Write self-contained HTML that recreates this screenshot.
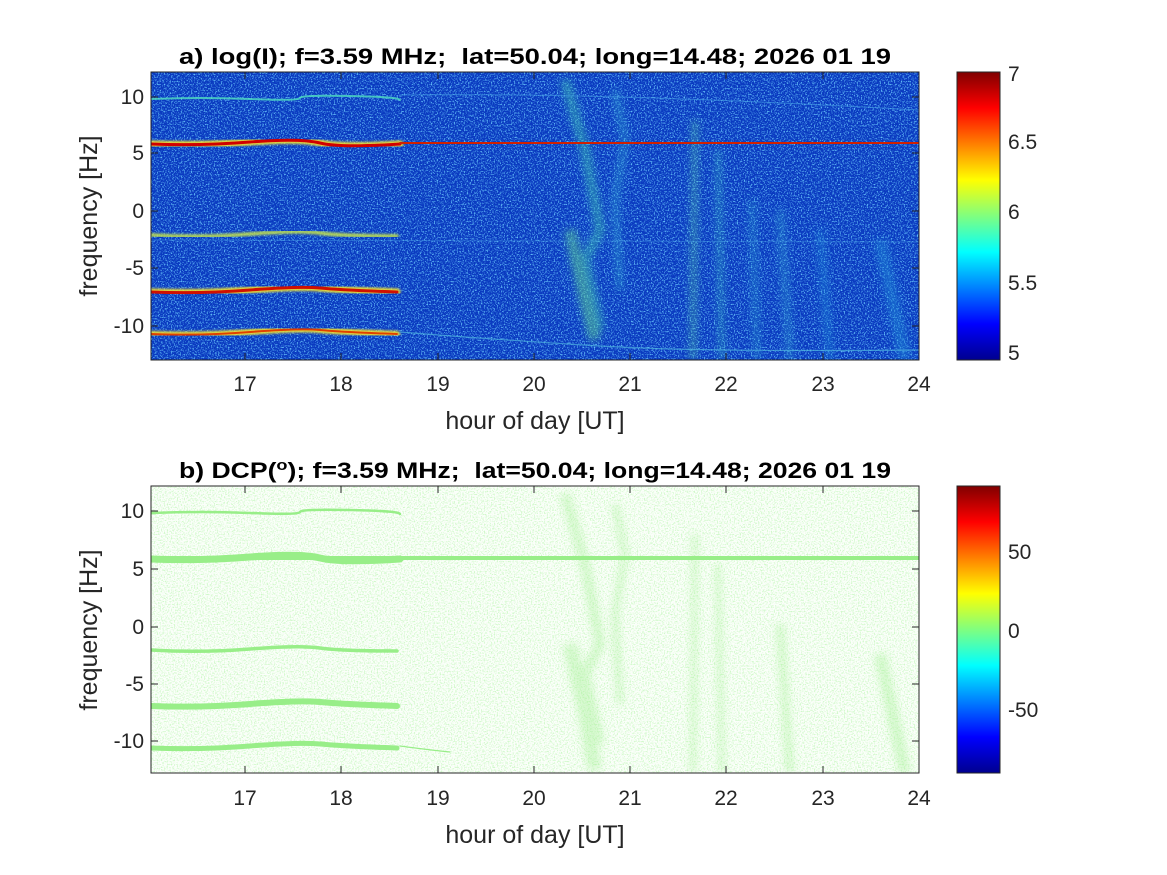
<!DOCTYPE html>
<html><head><meta charset="utf-8"><style>
body{margin:0;background:#fff;}
svg{display:block;font-family:"Liberation Sans",Arial,sans-serif;}
</style></head><body>
<svg width="1167" height="875" viewBox="0 0 1167 875" xmlns="http://www.w3.org/2000/svg">
<defs>
<linearGradient id="jet" x1="0" y1="1" x2="0" y2="0">
<stop offset="0" stop-color="#00008f"/><stop offset="0.125" stop-color="#0000ff"/>
<stop offset="0.375" stop-color="#00ffff"/><stop offset="0.625" stop-color="#ffff00"/>
<stop offset="0.875" stop-color="#ff0000"/><stop offset="1" stop-color="#800000"/>
</linearGradient>
<filter id="noiseB" x="0" y="0" width="100%" height="100%">
<feTurbulence type="fractalNoise" baseFrequency="0.7" numOctaves="2" seed="3"/>
<feColorMatrix type="matrix" values="0 0 0 0 0.15  0 0 0 0 0.6  0 0 0 0 1  0 0 0 4 -2.0"/>
</filter>
<filter id="noiseG" x="0" y="0" width="100%" height="100%">
<feTurbulence type="fractalNoise" baseFrequency="0.7" numOctaves="2" seed="7"/>
<feColorMatrix type="matrix" values="0 0 0 0 0.55  0 0 0 0 0.93  0 0 0 0 0.5  0 0 0 4 -1.9"/>
</filter>
<filter id="blur1"><feGaussianBlur stdDeviation="1.2"/></filter>
<filter id="blur3"><feGaussianBlur stdDeviation="4"/></filter>
<clipPath id="c1"><rect x="151" y="72" width="768" height="288"/></clipPath>
<clipPath id="c2"><rect x="151" y="486" width="768" height="287"/></clipPath>
</defs>

<!-- TOP PLOT -->
<text x="535" y="64" font-size="22" font-weight="bold" text-anchor="middle" textLength="712" lengthAdjust="spacingAndGlyphs" xml:space="preserve">a) log(I); f=3.59 MHz;  lat=50.04; long=14.48; 2026 01 19</text>
<g clip-path="url(#c1)">
<rect x="151" y="72" width="768" height="288" fill="#0a3ac0"/>
<rect x="151" y="72" width="768" height="288" filter="url(#noiseB)" opacity="0.9"/>
<g filter="url(#blur3)" opacity="0.5">
<path d="M565 80 L585 150 L600 230 L585 260 L600 330" stroke="#40c8b0" stroke-width="10" fill="none"/>
<path d="M570 230 L585 300 L595 340" stroke="#60d890" stroke-width="12" fill="none"/>
<path d="M615 90 L625 140 L615 200 L620 290" stroke="#30a8d0" stroke-width="7" fill="none"/>
<path d="M695 120 L693 360" stroke="#60e0a0" stroke-width="5" fill="none"/>
<path d="M718 150 L722 360" stroke="#40c8c0" stroke-width="5" fill="none"/>
<path d="M752 200 L757 360" stroke="#30b0d0" stroke-width="5" fill="none"/>
<path d="M780 210 L790 360" stroke="#30a0d0" stroke-width="7" fill="none"/>
<path d="M820 230 L830 360" stroke="#2090d8" stroke-width="7" fill="none"/>
<path d="M880 240 L905 360" stroke="#2090d8" stroke-width="12" fill="none"/>
</g>
<g fill="none" stroke-linecap="round">
<path d="M151 99 Q200 97 250 99 T300 98 T350 96 T400 100" stroke="#50e0c0" stroke-width="2" opacity="0.8"/>
<path d="M400 95 Q600 92 919 110" stroke="#4aa8e8" stroke-width="1" opacity="0.6"/>
<path d="M151 143 L919 143" stroke="#ffe040" stroke-width="4" filter="url(#blur1)"/>
<path d="M151 144 Q200 146 250 142 T320 143 T400 144" stroke="#f0e030" stroke-width="7" filter="url(#blur1)"/>
<path d="M151 144 Q200 146 250 142 T320 143 T400 144" stroke="#d00000" stroke-width="3"/>
<path d="M400 143 L919 143" stroke="#d02000" stroke-width="2"/>
<path d="M151 235 Q200 238 250 234 T320 233 T397 236" stroke="#c0e050" stroke-width="3.5" filter="url(#blur1)"/>
<path d="M151 292 Q200 294 250 290 T320 288 T397 292" stroke="#f0e030" stroke-width="7" filter="url(#blur1)"/>
<path d="M151 292 Q200 294 250 290 T320 288 T397 292" stroke="#d01000" stroke-width="3"/>
<path d="M151 334 Q200 336 250 332 T320 330 T397 334" stroke="#f0e030" stroke-width="6" filter="url(#blur1)"/>
<path d="M151 334 Q200 336 250 332 T320 330 T397 334" stroke="#e04000" stroke-width="2"/>
<path d="M400 332 Q500 340 600 346 T919 350" stroke="#50b8e0" stroke-width="1.2" opacity="0.7"/>
<path d="M151 240 L919 242" stroke="#4aa8e8" stroke-width="1" opacity="0.4"/>
</g>
</g>
<rect x="151" y="72" width="768" height="288" fill="none" stroke="#262626" stroke-width="1"/>
<g stroke="#262626" stroke-width="1">
<path d="M245 72v7M341 72v7M438 72v7M534 72v7M630 72v7M726 72v7M823 72v7M245 360v-7M341 360v-7M438 360v-7M534 360v-7M630 360v-7M726 360v-7M823 360v-7"/>
<path d="M151 97h7M151 153h7M151 211h7M151 268h7M151 326h7M919 97h-7M919 153h-7M919 211h-7M919 268h-7M919 326h-7"/>
</g>
<g font-size="21" fill="#262626">
<g text-anchor="end"><text x="144" y="104">10</text><text x="144" y="160">5</text><text x="144" y="218">0</text><text x="144" y="275">-5</text><text x="144" y="333">-10</text></g>
<g text-anchor="middle"><text x="245" y="391">17</text><text x="341" y="391">18</text><text x="438" y="391">19</text><text x="534" y="391">20</text><text x="630" y="391">21</text><text x="726" y="391">22</text><text x="823" y="391">23</text><text x="919" y="391">24</text></g>
<text x="535" y="429" text-anchor="middle" font-size="25">hour of day [UT]</text>
<text transform="translate(97 216) rotate(-90)" text-anchor="middle" font-size="25">frequency [Hz]</text>
</g>
<rect x="957" y="72" width="43" height="288" fill="url(#jet)" stroke="#262626"/>
<g font-size="21" fill="#262626"><text x="1008" y="81">7</text><text x="1008" y="149">6.5</text><text x="1008" y="219">6</text><text x="1008" y="290">5.5</text><text x="1008" y="360">5</text></g>

<!-- BOTTOM PLOT -->
<text x="535" y="478" font-size="22" font-weight="bold" text-anchor="middle" textLength="712" lengthAdjust="spacingAndGlyphs" xml:space="preserve">b) DCP(<tspan font-size="15" dy="-8">o</tspan><tspan dy="8">); f=3.59 MHz;  lat=50.04; long=14.48; 2026 01 19</tspan></text>
<g clip-path="url(#c2)">
<rect x="151" y="486" width="768" height="287" fill="#fbfffa"/>
<rect x="151" y="486" width="768" height="287" filter="url(#noiseG)" opacity="0.8"/>
<g filter="url(#blur3)" opacity="0.4">
<path d="M565 494 L585 564 L600 644 L585 674 L600 744" stroke="#a0f090" stroke-width="10" fill="none"/>
<path d="M570 644 L585 714 L595 770" stroke="#a0f090" stroke-width="14" fill="none"/>
<path d="M615 504 L625 554 L615 614 L620 704" stroke="#a0f090" stroke-width="7" fill="none"/>
<path d="M695 534 L693 773" stroke="#a0f090" stroke-width="6" fill="none"/>
<path d="M718 564 L722 773" stroke="#a0f090" stroke-width="6" fill="none"/>
<path d="M780 624 L790 773" stroke="#a0f090" stroke-width="8" fill="none"/>
<path d="M880 654 L905 773" stroke="#a0f090" stroke-width="12" fill="none"/>
</g>
<g fill="none" stroke="#98ee88" stroke-linecap="round">
<path d="M151 513 Q200 511 250 513 T300 512 T350 510 T400 514" stroke-width="2.5"/>
<path d="M151 558 L919 558" stroke-width="4"/>
<path d="M151 559 Q200 561 250 557 T320 558 T400 559" stroke-width="7"/>
<path d="M151 650 Q200 653 250 649 T320 648 T397 651" stroke-width="3.5"/>
<path d="M151 706 Q200 708 250 704 T320 702 T397 706" stroke-width="6"/>
<path d="M151 748 Q200 750 250 746 T320 744 T397 748" stroke-width="5"/>
<path d="M400 746 Q430 750 450 752" stroke-width="1.2"/>
</g>
</g>
<rect x="151" y="486" width="768" height="287" fill="none" stroke="#262626" stroke-width="1"/>
<g stroke="#262626" stroke-width="1">
<path d="M245 486v7M341 486v7M438 486v7M534 486v7M630 486v7M726 486v7M823 486v7M245 773v-7M341 773v-7M438 773v-7M534 773v-7M630 773v-7M726 773v-7M823 773v-7"/>
<path d="M151 511h7M151 569h7M151 627h7M151 684h7M151 741h7M919 511h-7M919 569h-7M919 627h-7M919 684h-7M919 741h-7"/>
</g>
<g font-size="21" fill="#262626">
<g text-anchor="end"><text x="144" y="518">10</text><text x="144" y="576">5</text><text x="144" y="634">0</text><text x="144" y="691">-5</text><text x="144" y="748">-10</text></g>
<g text-anchor="middle"><text x="245" y="805">17</text><text x="341" y="805">18</text><text x="438" y="805">19</text><text x="534" y="805">20</text><text x="630" y="805">21</text><text x="726" y="805">22</text><text x="823" y="805">23</text><text x="919" y="805">24</text></g>
<text x="535" y="843" text-anchor="middle" font-size="25">hour of day [UT]</text>
<text transform="translate(97 630) rotate(-90)" text-anchor="middle" font-size="25">frequency [Hz]</text>
</g>
<rect x="957" y="486" width="43" height="287" fill="url(#jet)" stroke="#262626"/>
<g font-size="21" fill="#262626"><text x="1008" y="559">50</text><text x="1008" y="638">0</text><text x="1008" y="717">-50</text></g>
</svg>
</body></html>
